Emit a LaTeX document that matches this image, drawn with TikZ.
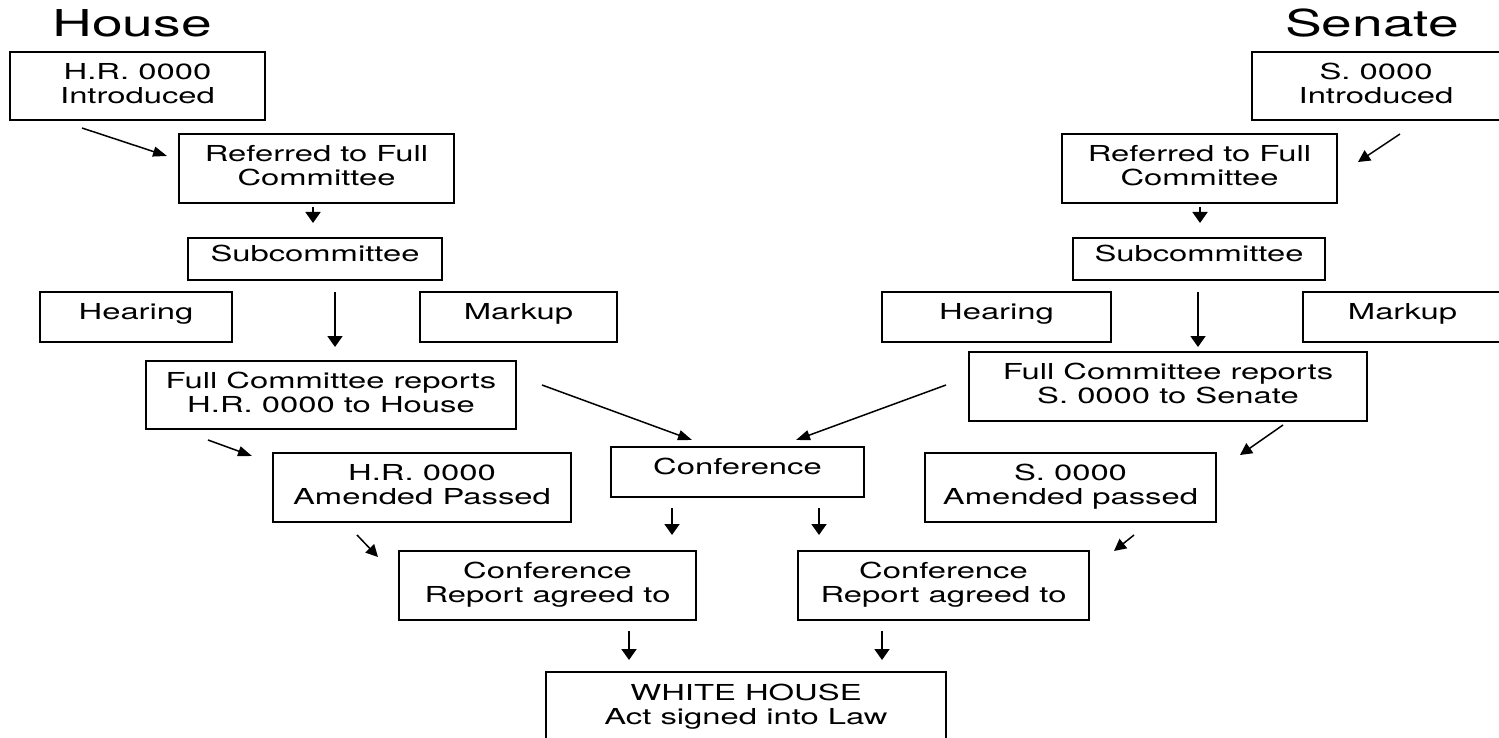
\documentclass[tikz,border=0pt]{standalone}
\usepackage{fontspec}
\setmainfont{TeX Gyre Heros}[FakeStretch=1.49]
\usetikzlibrary{arrows.meta}
\newcommand\dn{\rule[-6pt]{0pt}{6pt}}
\begin{document}
\begin{tikzpicture}[x=1pt,y=-1pt,
  box/.style={draw, line width=1.7pt, inner sep=0pt, align=center,
    font=\fontsize{22}{24}\selectfont},
  one/.style={text height=16pt, text depth=11pt},
  sz/.style 2 args={minimum width=#1pt, minimum height=#2pt},
  arrh/.style={line width=1.5pt, -{Triangle[length=14pt,width=10pt]}},
  arrd/.style={line width=1.5pt, -{Triangle[length=12pt,width=12pt]}},
  arrv/.style={line width=1.9pt, -{Triangle[length=11pt,width=15pt]}},
  ttl/.style={font=\fontsize{37}{40}\selectfont, anchor=base, inner sep=0pt}]
\useasboundingbox (0,0) rectangle (1499,738);
\fill[white] (0,0) rectangle (1499,738);
% titles
\node[ttl] (house) at (132,37) {House};
\node[ttl] (senate) at (1372,37) {Senate};
% boxes
\node[box, sz={255}{68}] (hrintro) at (137.5,86) {H.R. 0000\\Introduced\dn};
\node[box, sz={248}{68}] (sintro) at (1376,86) {S. 0000\\Introduced\dn};
\node[box, sz={275}{69}] (hrref) at (316.5,168.5) {Referred to Full\\Committee\dn};
\node[box, sz={275}{69}] (sref) at (1199.5,168.5) {Referred to Full\\Committee\dn};
\node[box, one, sz={254}{42}] (hrsub) at (315,259) {Subcommittee};
\node[box, one, sz={252}{42}] (ssub) at (1199,259) {Subcommittee};
\node[box, one, sz={192}{50}] (hrhear) at (136,317) {Hearing};
\node[box, one, sz={197}{50}] (hrmark) at (518.5,317) {Markup};
\node[box, one, sz={229}{50}] (shear) at (996.5,317) {Hearing};
\node[box, one, sz={199}{50}] (smark) at (1402.5,317) {Markup};
\node[box, sz={370}{68}] (hrfc) at (331,395) {Full Committee reports\\H.R. 0000 to House\dn};
\node[box, sz={398}{69}] (sfc) at (1168,386.5) {Full Committee reports\\S. 0000 to Senate\dn};
\node[box, sz={298}{69}] (hramend) at (422,487.5) {H.R. 0000\\Amended Passed\dn};
\node[box, one, sz={253}{50}] (conf) at (737.5,472) {Conference};
\node[box, sz={291}{69}] (samend) at (1070.5,487.5) {S. 0000\\Amended passed\dn};
\node[box, sz={297}{69}] (crl) at (547.5,585.5) {Conference\\Report agreed to\dn};
\node[box, sz={291}{69}] (crr) at (943.5,585.5) {Conference\\Report agreed to\dn};
\node[box, sz={400}{70}] (wh) at (746,707) {WHITE HOUSE\\Act signed into Law\dn};
% arrow end points
\coordinate (a1s) at (82,128);   \coordinate (a1e) at (167,156);
\coordinate (a2s) at (1400,134); \coordinate (a2e) at (1358,162);
\coordinate (a3s) at (313,207);  \coordinate (a3e) at (313,223);
\coordinate (a4s) at (1200,207); \coordinate (a4e) at (1200,223);
\coordinate (a5s) at (335,292);  \coordinate (a5e) at (335,347);
\coordinate (a6s) at (1198,292); \coordinate (a6e) at (1198,347);
\coordinate (a7s) at (542,385);  \coordinate (a7e) at (692,440);
\coordinate (a8s) at (946,385);  \coordinate (a8e) at (796,440);
\coordinate (a9s) at (208,440);  \coordinate (a9e) at (252,456);
\coordinate (a10s) at (1283,425); \coordinate (a10e) at (1240,455);
\coordinate (a11s) at (672,508); \coordinate (a11e) at (672,535);
\coordinate (a12s) at (819,508); \coordinate (a12e) at (819,535);
\coordinate (a13s) at (357,535); \coordinate (a13e) at (378,557);
\coordinate (a14s) at (1134,535); \coordinate (a14e) at (1114,551);
\coordinate (a15s) at (629,631); \coordinate (a15e) at (629,660);
\coordinate (a16s) at (882,631); \coordinate (a16e) at (882,660);
\foreach \i in {1,7,8,9} {\draw[arrh] (a\i s) -- (a\i e);}
\foreach \i in {2,10,13,14} {\draw[arrd] (a\i s) -- (a\i e);}
\foreach \i in {3,4,5,6,11,12,15,16} {\draw[arrv] (a\i s) -- (a\i e);}
\end{tikzpicture}
\end{document}
